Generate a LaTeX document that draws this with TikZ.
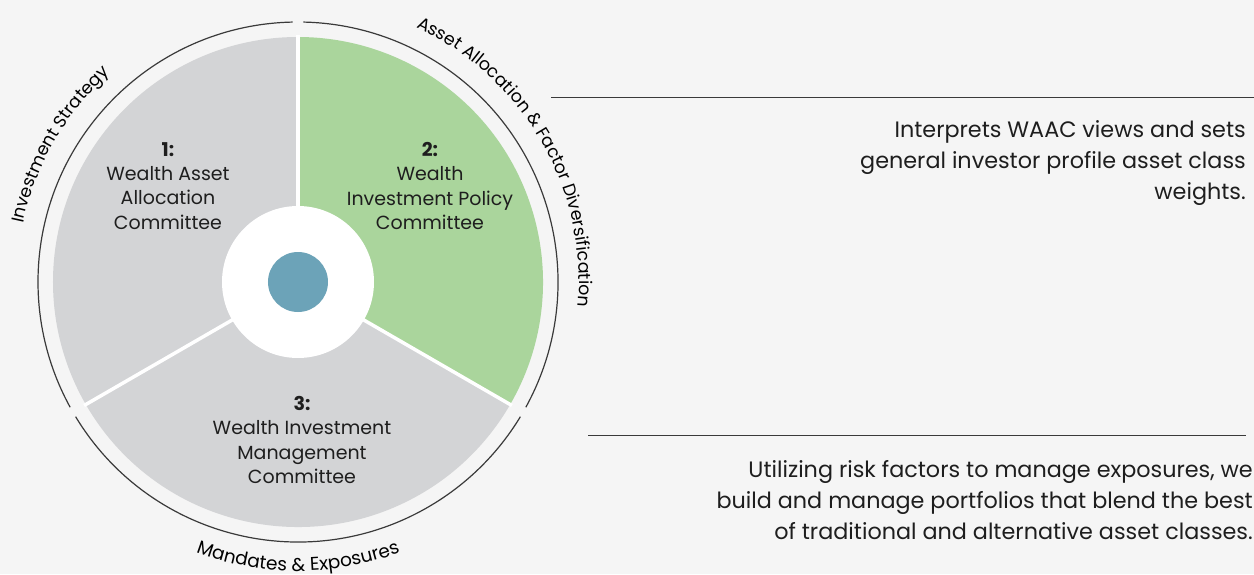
\documentclass[tikz,border=0pt]{standalone}
\usepackage{fontspec}
\setmainfont{Poppins}
\usepackage{xcolor}
\usetikzlibrary{positioning,calc,decorations.text}

\definecolor{bgcol}{HTML}{F5F5F5}
\definecolor{wedgegray}{HTML}{D3D4D6}
\definecolor{wedgegreen}{HTML}{AAD59C}
\definecolor{hubblue}{HTML}{6CA3B8}
\definecolor{inkcol}{HTML}{1E1E1E}
\definecolor{rulecol}{HTML}{3A3A3A}

\newcommand{\arcfont}{\fontsize{17.5}{17.5}\selectfont}
\newcommand{\arcfontb}{\fontsize{18.5}{18.5}\selectfont}

\begin{document}
\begin{tikzpicture}[x=1pt, y=1pt,
    wedgelabel/.style={align=center, text=inkcol, font=\fontsize{19}{24.2}\selectfont},
    sidenote/.style={align=right, text=inkcol, font=\fontsize{22.3}{31}\selectfont, anchor=east, inner sep=0},
    ringline/.style={rulecol, line width=1.2},
    sepline/.style={white, line width=3.5},
    hline/.style={rulecol, line width=1}]

    % Background
    \fill[bgcol] (-298,-292) rectangle (956,282);
    \useasboundingbox (-298,-292) rectangle (956,282);

    % Wedges
    \fill[wedgegray] (0,0) -- (90:245) arc[start angle=90, end angle=210, radius=245] -- cycle;
    \fill[wedgegreen] (0,0) -- (-30:245) arc[start angle=-30, end angle=90, radius=245] -- cycle;
    \fill[wedgegray] (0,0) -- (210:245) arc[start angle=210, end angle=330, radius=245] -- cycle;
    \foreach \a in {90,210,330} {
        \draw[sepline] (0,0) -- (\a:247);
    }

    % Hub
    \fill[white] (0,0) circle (76);
    \fill[hubblue] (0,0) circle (30);

    % Outer ring
    \foreach \s/\e in {91.2/208.8, 211.2/328.8, -28.8/88.8} {
        \draw[ringline] (\s:260) arc[start angle=\s, end angle=\e, radius=260];
    }

    % Ring labels
    \path[decorate, decoration={text along path, text align=center,
        text={|\arcfont|Investment Strategy}}]
        (190:281) arc[start angle=190, end angle=110, radius=281];
    \path[decorate, decoration={text along path, text align=center,
        text={|\arcfont|Asset Allocation {\&} Factor Diversification}}]
        (80:281) arc[start angle=80, end angle=-20, radius=281];
    \path[decorate, decoration={text along path, text align=center,
        text={|\arcfontb|Mandates {\&} Exposures}}]
        (230:289) arc[start angle=230, end angle=310, radius=289];

    % Committees
    \node[wedgelabel] (waac) at (-130,96) {\textbf{1:}\\Wealth Asset\\Allocation\\Committee};
    \node[wedgelabel] (wipc) at (132,96) {\textbf{2:}\\Wealth\\Investment Policy\\Committee};
    \node[wedgelabel] (wimc) at (4,-158) {\textbf{3:}\\Wealth Investment\\Management\\Committee};

    % Notes
    \coordinate (rulea) at (253,185);
    \coordinate (ruleb) at (956,185);
    \coordinate (rulec) at (290,-153);
    \coordinate (ruled) at (948,-153);
    \draw[hline] (rulea) -- (ruleb);
    \draw[hline] (rulec) -- (ruled);
    \node[sidenote] (notea) at (948,119) {Interprets WAAC views and sets\\general investor profile asset class\\weights.};
    \node[sidenote] (noteb) at (955,-218) {Utilizing risk factors to manage exposures, we\\build and manage portfolios that blend the best\\of traditional and alternative asset classes.};
\end{tikzpicture}
\end{document}
